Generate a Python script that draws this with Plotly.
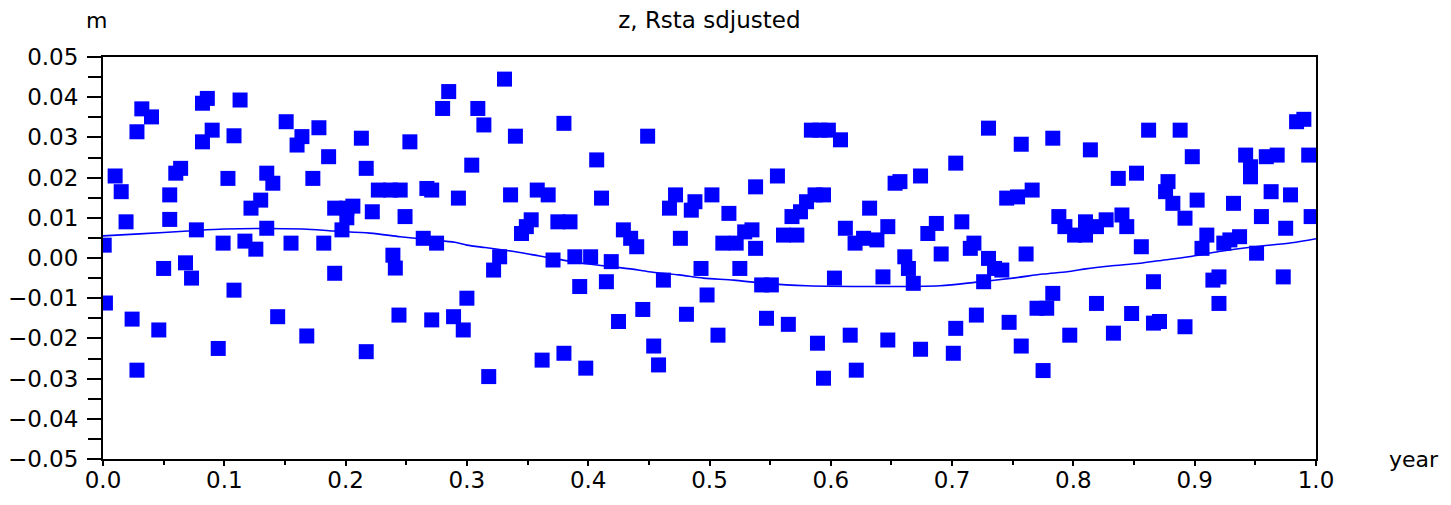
import plotly.graph_objects as go

# Adjusted vertical residuals (m) against time (fraction of a year)
year = [
    0.001, 0.002, 0.010, 0.015, 0.019, 0.024, 0.028, 0.028, 0.032, 0.040,
    0.046, 0.050, 0.055, 0.055, 0.060, 0.064, 0.068, 0.073, 0.077, 0.082,
    0.086, 0.082, 0.090, 0.095, 0.099, 0.103, 0.108, 0.108, 0.113, 0.117,
    0.122, 0.126, 0.130, 0.135, 0.140, 0.135, 0.144, 0.151, 0.155, 0.160,
    0.164, 0.168, 0.173, 0.178, 0.182, 0.186, 0.191, 0.191, 0.197, 0.201,
    0.206, 0.201, 0.213, 0.217, 0.217, 0.222, 0.227, 0.237, 0.245, 0.239,
    0.241, 0.244, 0.249, 0.253, 0.264, 0.275, 0.267, 0.271, 0.285, 0.280,
    0.293, 0.304, 0.300, 0.271, 0.289, 0.297, 0.309, 0.314, 0.318, 0.327,
    0.322, 0.331, 0.336, 0.340, 0.345, 0.349, 0.353, 0.358, 0.367, 0.362,
    0.371, 0.375, 0.385, 0.380, 0.380, 0.389, 0.402, 0.393, 0.398, 0.407,
    0.411, 0.419, 0.415, 0.425, 0.429, 0.435, 0.440, 0.445, 0.449, 0.454,
    0.458, 0.462, 0.472, 0.467, 0.476, 0.481, 0.485, 0.488, 0.493, 0.502,
    0.498, 0.507, 0.516, 0.511, 0.522, 0.525, 0.529, 0.535, 0.538, 0.538,
    0.543, 0.551, 0.547, 0.556, 0.561, 0.572, 0.565, 0.568, 0.575, 0.580,
    0.587, 0.594, 0.584, 0.591, 0.598, 0.608, 0.589, 0.594, 0.603, 0.612,
    0.616, 0.621, 0.620, 0.627, 0.632, 0.638, 0.643, 0.647, 0.647, 0.653,
    0.657, 0.661, 0.664, 0.668, 0.674, 0.674, 0.680, 0.687, 0.691, 0.701,
    0.703, 0.703, 0.708, 0.715, 0.718, 0.720, 0.726, 0.730, 0.730, 0.735,
    0.741, 0.745, 0.754, 0.766, 0.747, 0.757, 0.761, 0.757, 0.775, 0.770,
    0.778, 0.783, 0.783, 0.788, 0.793, 0.797, 0.801, 0.810, 0.810, 0.814,
    0.819, 0.819, 0.827, 0.833, 0.837, 0.840, 0.844, 0.848, 0.852, 0.856,
    0.862, 0.866, 0.866, 0.871, 0.876, 0.878, 0.882, 0.888, 0.892, 0.892,
    0.898, 0.902, 0.906, 0.910, 0.915, 0.920, 0.920, 0.924, 0.929, 0.932,
    0.937, 0.942, 0.946, 0.946, 0.951, 0.955, 0.959, 0.968, 0.963, 0.973,
    0.975, 0.979, 0.984, 0.990, 0.994, 0.996,
]

z_adjusted = [
    0.0032, -0.0112, 0.0204, 0.0165, 0.0090, -0.0152, -0.0279, 0.0314, 0.0371, 0.0351,
    -0.0179, -0.0026, 0.0157, 0.0096, 0.0211, 0.0223, -0.0012, -0.0050, 0.0070, 0.0385,
    0.0397, 0.0289, 0.0318, -0.0225, 0.0037, 0.0198, 0.0304, -0.0080, 0.0393, 0.0042,
    0.0124, 0.0022, 0.0144, 0.0211, 0.0186, 0.0074, -0.0146, 0.0339, 0.0037, 0.0281,
    0.0302, -0.0194, 0.0198, 0.0324, 0.0037, 0.0252, -0.0038, 0.0124, 0.0070, 0.0124,
    0.0129, 0.0100, 0.0298, 0.0223, -0.0233, 0.0115, 0.0169, 0.0169, 0.0169, 0.0007,
    -0.0025, -0.0142, 0.0103, 0.0289, 0.0049, 0.0037, 0.0173, 0.0169, 0.0414, 0.0372,
    0.0149, 0.0231, -0.0100, -0.0154, -0.0146, -0.0179, 0.0372, 0.0331, -0.0295, 0.0003,
    -0.0030, 0.0445, 0.0157, 0.0303, 0.0061, 0.0078, 0.0095, 0.0169, 0.0157, -0.0254,
    -0.0005, 0.0090, 0.0090, 0.0335, -0.0237, 0.0003, 0.0003, -0.0071, -0.0274, 0.0244,
    0.0149, -0.0009, -0.0059, -0.0158, 0.0070, 0.0049, 0.0028, -0.0128, 0.0303, -0.0219,
    -0.0266, -0.0055, 0.0157, 0.0124, 0.0049, -0.0140, 0.0119, 0.0140, -0.0026, 0.0157,
    -0.0092, -0.0192, 0.0111, 0.0037, 0.0037, -0.0026, 0.0065, 0.0070, 0.0024, 0.0177,
    -0.0067, -0.0067, -0.0150, 0.0204, 0.0057, 0.0057, -0.0165, 0.0103, 0.0115, 0.0140,
    0.0157, 0.0157, 0.0318, 0.0318, 0.0318, 0.0294, -0.0212, -0.0299, -0.0050, 0.0074,
    -0.0192, -0.0279, 0.0037, 0.0049, 0.0124, 0.0045, -0.0047, 0.0078, -0.0204, 0.0186,
    0.0190, 0.0003, -0.0026, -0.0063, -0.0227, 0.0204, 0.0061, 0.0086, 0.0010, -0.0237,
    -0.0175, 0.0236, 0.0090, 0.0024, 0.0037, -0.0142, -0.0059, -0.0001, 0.0323, -0.0026,
    -0.0030, 0.0149, 0.0152, 0.0169, -0.0160, 0.0283, 0.0010, -0.0219, -0.0280, -0.0125,
    -0.0125, -0.0088, 0.0298, 0.0103, 0.0078, -0.0192, 0.0057, 0.0057, 0.0090, 0.0269,
    -0.0113, 0.0078, 0.0095, -0.0187, 0.0198, 0.0107, 0.0078, -0.0138, 0.0211, 0.0028,
    0.0318, -0.0059, -0.0162, -0.0158, 0.0165, 0.0190, 0.0136, 0.0318, 0.0099, -0.0171,
    0.0252, 0.0144, 0.0024, 0.0057, -0.0055, -0.0047, -0.0113, 0.0037, 0.0045, 0.0136,
    0.0053, 0.0256, 0.0227, 0.0202, 0.0012, 0.0103, 0.0252, 0.0256, 0.0165, -0.0047,
    0.0074, 0.0157, 0.0339, 0.0345, 0.0256, 0.0103,
]

# Smooth seasonal fit through the residuals
trend_year = [
    0.0, 0.03, 0.07, 0.10, 0.165, 0.19, 0.22, 0.245, 0.27, 0.29, 0.30, 0.315,
    0.33, 0.345, 0.36, 0.395, 0.435, 0.45, 0.475, 0.495, 0.52, 0.545, 0.58,
    0.69, 0.72, 0.75, 0.775, 0.795, 0.81, 0.83, 0.855, 0.87, 0.895, 0.92,
    0.95, 0.98, 1.0,
]
trend_z = [
    0.0055, 0.0060, 0.0067, 0.0072, 0.0072, 0.0067, 0.0062, 0.0053, 0.0045,
    0.0039, 0.0032, 0.0026, 0.0020, 0.0013, 0.0005, -0.0013, -0.0027, -0.0034,
    -0.0042, -0.0050, -0.0055, -0.0063, -0.0069, -0.0069, -0.0060, -0.0050,
    -0.0040, -0.0034, -0.0027, -0.0020, -0.0013, -0.0007, 0.0003, 0.0016,
    0.0028, 0.0038, 0.0048,
]

FONT = "DejaVu Sans"
BLUE = "#0000ff"

fig = go.Figure()
fig.add_trace(go.Scatter(
    x=year, y=z_adjusted, mode="markers",
    marker=dict(symbol="square", size=15, color=BLUE, line=dict(width=0)),
    cliponaxis=True, showlegend=False,
))
fig.add_trace(go.Scatter(
    x=trend_year, y=trend_z, mode="lines",
    line=dict(color=BLUE, width=1.6, shape="spline", smoothing=0.8),
    showlegend=False,
))

fig.update_layout(
    width=1451, height=505,
    margin=dict(l=103, r=135, t=57, b=46, autoexpand=False),
    paper_bgcolor="white", plot_bgcolor="white",
    font=dict(family=FONT, size=23, color="black"),
    title=dict(text="z, Rsta sdjusted", x=0.4889, xanchor="center",
               y=0.96, yanchor="middle", font=dict(family=FONT, size=23)),
    annotations=[
        dict(text="m", xref="paper", yref="paper", x=-0.005, y=1.0,
             xanchor="center", yanchor="bottom", yshift=22, showarrow=False,
             font=dict(family=FONT, size=22)),
        dict(text="year", xref="paper", yref="paper", x=1.0, y=0.0,
             xanchor="left", yanchor="middle", xshift=71, showarrow=False,
             font=dict(family=FONT, size=22)),
    ],
)

fig.update_xaxes(
    range=[0, 1], dtick=0.1, tick0=0, tickformat=".1f",
    automargin=False, showgrid=False, zeroline=False,
    showline=True, linecolor="black", linewidth=2, mirror=True,
    ticks="outside", ticklen=5, tickwidth=2, tickcolor="black",
    ticklabelstandoff=-6,
    minor=dict(dtick=0.05, tick0=0, ticks="outside", ticklen=4,
               tickwidth=2, tickcolor="black", showgrid=False),
)
fig.update_yaxes(
    range=[-0.05, 0.05], dtick=0.01, tick0=0, tickformat=".2f",
    automargin=False, showgrid=False, zeroline=False,
    showline=True, linecolor="black", linewidth=2, mirror=True,
    ticks="outside", ticklen=14, tickwidth=2, tickcolor="black",
    ticklabelstandoff=4,
    minor=dict(dtick=0.005, tick0=0, ticks="outside", ticklen=13,
               tickwidth=2, tickcolor="black", showgrid=False),
)

fig.write_html("out.html")
